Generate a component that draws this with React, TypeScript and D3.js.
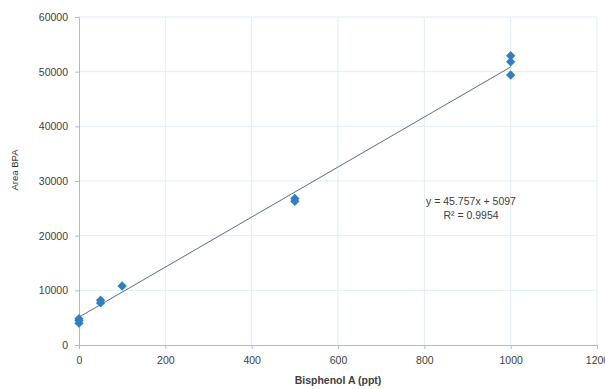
import { useEffect, useRef } from 'react';
import * as d3 from 'd3';

// calibration points
const concentrations = [0, 0, 0, 50, 50, 100, 500, 500, 1000, 1000, 1000];
const areas = [4000, 4500, 4800, 7700, 8200, 10800, 26300, 26800, 49400, 51800, 52900];

const xTicks = [0, 200, 400, 600, 800, 1000, 1200];
const yTicks = [0, 10000, 20000, 30000, 40000, 50000, 60000];

const slope = 45.757;
const intercept = 5097;
const equationLines = ['y = 45.757x + 5097', 'R² = 0.9954'];

export default function App() {
  const svgRef = useRef<SVGSVGElement>(null);

  useEffect(() => {
    if (!svgRef.current) return;
    const svg = d3.select(svgRef.current);
    svg.selectAll('*').remove();

    const width = 605;
    const height = 389;
    const margin = { top: 17, right: 8, bottom: 44, left: 79 };

    const x = d3.scaleLinear()
      .domain([0, 1200])
      .range([margin.left, width - margin.right]);
    const y = d3.scaleLinear()
      .domain([0, 60000])
      .range([height - margin.bottom, margin.top]);

    const font = '"Liberation Sans", Arial, sans-serif';
    const gridColor = '#deedf6';
    const axisColor = '#9cc3dc';
    const textColor = '#404040';

    svg.append('rect')
      .attr('width', width)
      .attr('height', height)
      .attr('fill', '#fff');

    // grid
    svg.append('g')
      .selectAll('line')
      .data(yTicks.slice(1))
      .join('line')
      .attr('x1', x(0))
      .attr('x2', x(1200))
      .attr('y1', d => y(d))
      .attr('y2', d => y(d))
      .attr('stroke', gridColor)
      .attr('stroke-width', 1);

    svg.append('g')
      .selectAll('line')
      .data(xTicks.slice(1))
      .join('line')
      .attr('x1', d => x(d))
      .attr('x2', d => x(d))
      .attr('y1', y(0))
      .attr('y2', y(60000))
      .attr('stroke', gridColor)
      .attr('stroke-width', 1);

    // axes
    const xAxis = d3.axisBottom(x)
      .tickValues(xTicks)
      .tickSize(4)
      .tickPadding(8)
      .tickFormat(d => String(d));
    svg.append('g')
      .attr('transform', `translate(0,${y(0)})`)
      .call(xAxis)
      .call(g => g.select('.domain').attr('stroke', axisColor))
      .call(g => g.selectAll('.tick line').attr('stroke', axisColor))
      .call(g => g.selectAll('.tick text')
        .attr('fill', textColor)
        .attr('font-family', font)
        .attr('font-size', '10.5px'));

    const yAxis = d3.axisLeft(y)
      .tickValues(yTicks)
      .tickSize(4)
      .tickPadding(7)
      .tickFormat(d => String(d));
    svg.append('g')
      .attr('transform', `translate(${x(0)},0)`)
      .call(yAxis)
      .call(g => g.select('.domain').attr('stroke', axisColor))
      .call(g => g.selectAll('.tick line').attr('stroke', axisColor))
      .call(g => g.selectAll('.tick text')
        .attr('fill', textColor)
        .attr('font-family', font)
        .attr('font-size', '10.5px'));

    // axis titles
    svg.append('text')
      .attr('x', (x(0) + x(1200)) / 2)
      .attr('y', 384)
      .attr('text-anchor', 'middle')
      .attr('font-family', font)
      .attr('font-size', '10.5px')
      .attr('font-weight', 'bold')
      .attr('fill', textColor)
      .text('Bisphenol A (ppt)');

    svg.append('text')
      .attr('transform', `translate(18,${170}) rotate(-90)`)
      .attr('text-anchor', 'middle')
      .attr('font-family', font)
      .attr('font-size', '9.5px')
      .attr('fill', '#333')
      .text('Area BPA');

    // trendline
    svg.append('line')
      .attr('x1', x(0))
      .attr('y1', y(intercept))
      .attr('x2', x(1000))
      .attr('y2', y(slope * 1000 + intercept))
      .attr('stroke', '#5a6e7a')
      .attr('stroke-width', 1);

    // markers: square diamonds like Excel
    const diamond = d3.symbol().type(d3.symbolSquare).size(44);
    svg.append('g')
      .selectAll('path')
      .data(concentrations.map((c, i) => ({ c, a: areas[i] })))
      .join('path')
      .attr('transform', d => `translate(${x(d.c)},${y(d.a)}) rotate(45)`)
      .attr('d', diamond)
      .attr('fill', '#2f7fc6');

    // equation
    svg.append('g')
      .selectAll('text')
      .data(equationLines)
      .join('text')
      .attr('x', 471)
      .attr('y', (d, i) => 205 + i * 14)
      .attr('text-anchor', 'middle')
      .attr('font-family', font)
      .attr('font-size', '10.5px')
      .attr('fill', textColor)
      .text(d => d);
  }, []);

  return (
    <svg
      ref={svgRef}
      width={605}
      height={389}
      style={{ position: 'absolute', left: 0, top: 0 }}
    />
  );
}
